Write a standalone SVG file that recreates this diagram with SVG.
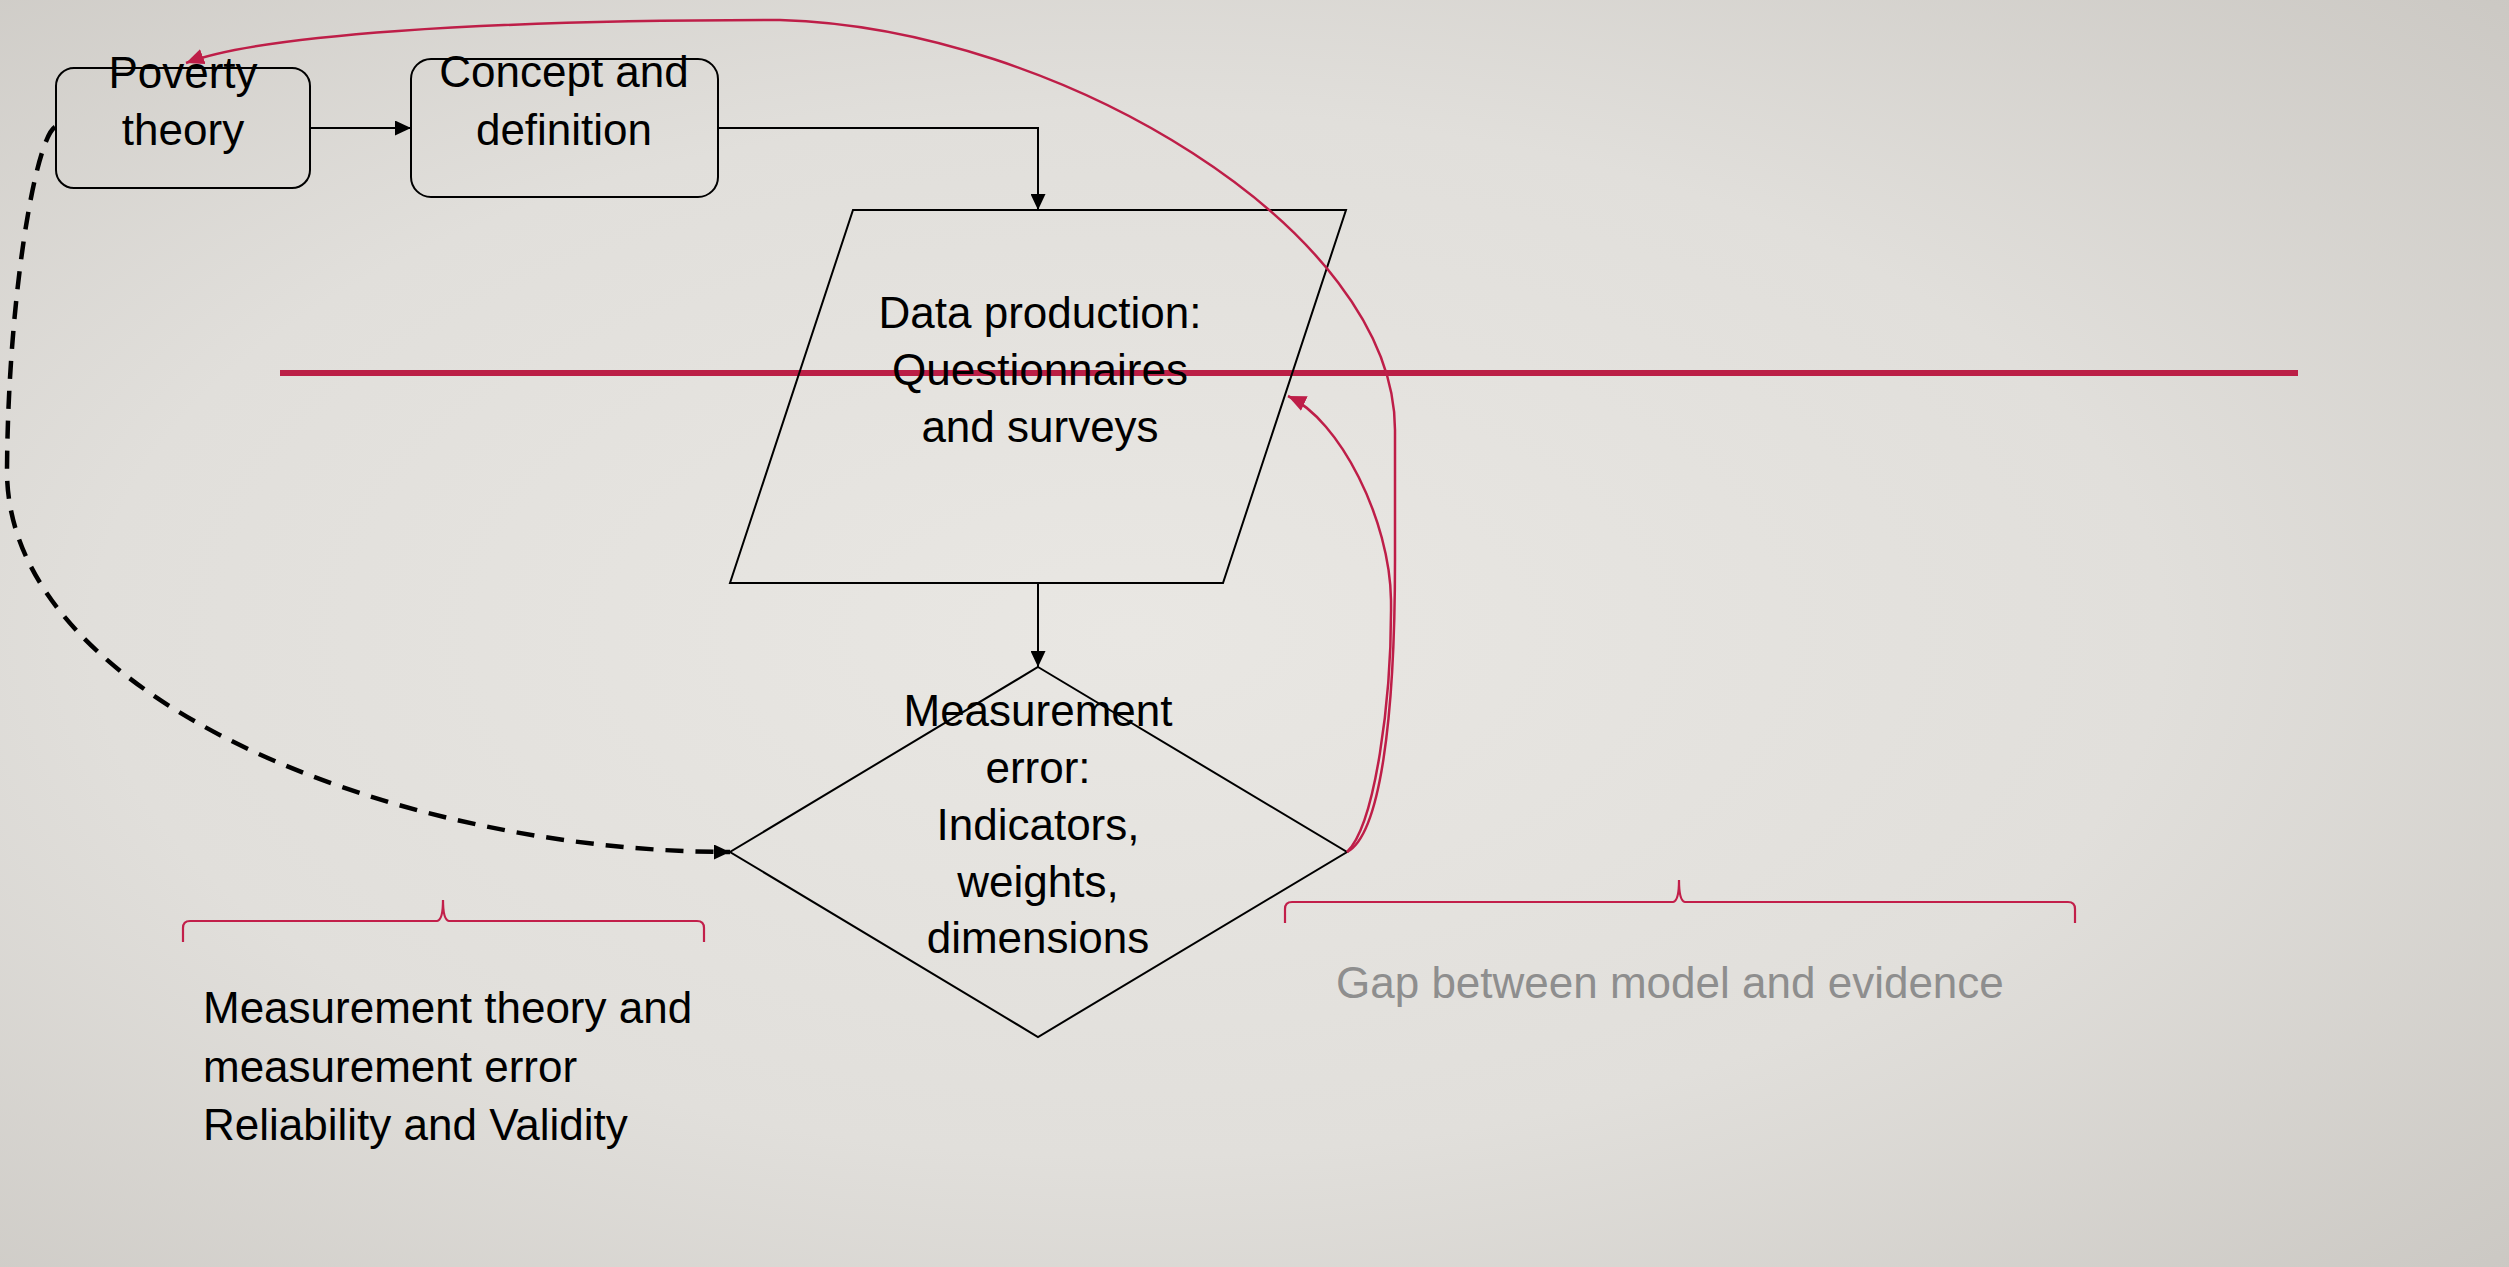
<svg xmlns="http://www.w3.org/2000/svg" width="2509" height="1267" viewBox="0 0 2509 1267">
  <defs>
    <radialGradient id="bg" cx="0.45" cy="0.5" r="0.75">
      <stop offset="0" stop-color="#e9e7e3"/>
      <stop offset="0.55" stop-color="#e1dfdb"/>
      <stop offset="1" stop-color="#cbc8c3"/>
    </radialGradient>
    <marker id="arrowBlack" markerUnits="userSpaceOnUse" markerWidth="17" markerHeight="15" refX="16" refY="7.5" orient="auto">
      <path d="M0,0 L16,7.5 L0,15 z" fill="#000"/>
    </marker>
    <marker id="arrowRed" markerUnits="userSpaceOnUse" markerWidth="20" markerHeight="16" refX="18" refY="8" orient="auto">
      <path d="M0,0 L18,8 L0,16 z" fill="#be1e48"/>
    </marker>
    <style>
      .shape { fill: none; stroke: #000; stroke-width: 2; }
      .label { font-family: "Liberation Sans", Arial, sans-serif; font-size: 44px; fill: #000; }
      .mid { text-anchor: middle; }
      .muted { fill: #8e8e8e; }
      .link { fill: none; stroke: #000; stroke-width: 2; }
      .dashed { fill: none; stroke: #000; stroke-width: 4.5; stroke-dasharray: 18 12; }
      .red { fill: none; stroke: #be1e48; stroke-width: 2.5; }
      .brace { fill: none; stroke: #c21f4a; stroke-width: 2.2; }
    </style>
  </defs>

  <!-- backdrop -->
  <rect x="0" y="0" width="2509" height="1267" fill="url(#bg)"/>

  <!-- divider between model and evidence -->
  <line x1="280" y1="373" x2="2298" y2="373" stroke="#bb1f46" stroke-width="6"/>

  <g id="poverty-theory">
    <rect class="shape" x="56" y="68" width="254" height="120" rx="18" ry="18"/>
    <text class="label mid" x="183" y="88">Poverty</text>
    <text class="label mid" x="183" y="145">theory</text>
  </g>

  <g id="concept-definition">
    <rect class="shape" x="411" y="59" width="307" height="138" rx="20" ry="20"/>
    <text class="label mid" x="564" y="87">Concept and</text>
    <text class="label mid" x="564" y="145">definition</text>
  </g>

  <g id="data-production">
    <polygon class="shape" points="853,210 1346,210 1223,583 730,583"/>
    <text class="label mid" x="1040" y="328">Data production:</text>
    <text class="label mid" x="1040" y="385">Questionnaires</text>
    <text class="label mid" x="1040" y="442">and surveys</text>
  </g>

  <g id="measurement-error">
    <polygon class="shape" points="1038,667 1347,852 1038,1037 730,852"/>
    <text class="label mid" x="1038" y="726">Measurement</text>
    <text class="label mid" x="1038" y="783">error:</text>
    <text class="label mid" x="1038" y="840">Indicators,</text>
    <text class="label mid" x="1038" y="897">weights,</text>
    <text class="label mid" x="1038" y="953">dimensions</text>
  </g>

  <g id="measurement-theory">
    <path class="brace" d="M183 942 L183 928 Q183 921 190 921 L437 921 Q443 920 443 900 Q443 920 449 921 L697 921 Q704 921 704 928 L704 942"/>
    <text class="label" x="203" y="1023">Measurement theory and</text>
    <text class="label" x="203" y="1082">measurement error</text>
    <text class="label" x="203" y="1140">Reliability and Validity</text>
  </g>

  <g id="model-evidence-gap">
    <path class="brace" d="M1285 923 L1285 909 Q1285 902 1292 902 L1673 902 Q1679 901 1679 880 Q1679 901 1685 902 L2068 902 Q2075 902 2075 909 L2075 923"/>
    <text class="label muted" x="1336" y="998">Gap between model and evidence</text>
  </g>

  <g id="connectors">
    <path class="link" d="M310 128 L411 128" marker-end="url(#arrowBlack)"/>
    <path class="link" d="M718 128 L1038 128 L1038 210" marker-end="url(#arrowBlack)"/>
    <path class="link" d="M1038 583 L1038 667" marker-end="url(#arrowBlack)"/>
    <path class="dashed" d="M55 127 C35 140 8 300 7 470 C6 700 400 852 730 852" marker-end="url(#arrowBlack)"/>
    <path class="red" d="M1347 852 C1380 835 1395 720 1395 560 L1395 430 C1395 230 1060 28 780 20 C480 20 260 35 186 63" marker-end="url(#arrowRed)"/>
    <path class="red" d="M1347 852 C1375 825 1392 700 1391 600 C1390 520 1340 420 1288 396" marker-end="url(#arrowRed)"/>
  </g>
</svg>
